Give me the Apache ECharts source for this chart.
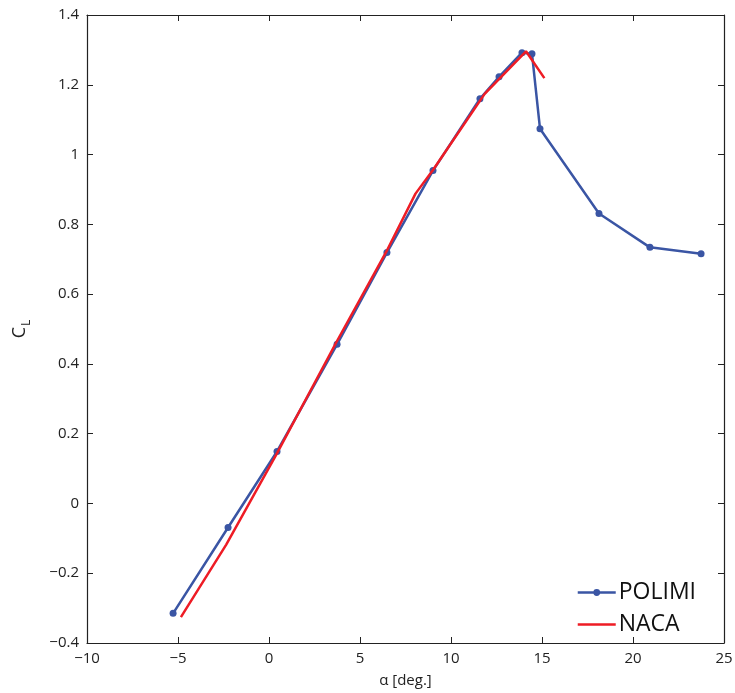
<!DOCTYPE html>
<html>
<head>
<meta charset="utf-8">
<script src="https://cdn.jsdelivr.net/npm/echarts@6/dist/echarts.min.js"></script>
<style>
html,body{margin:0;padding:0;background:#fff;}
#chart{width:735px;height:693px;}
</style>
</head>
<body>
<div id="chart"></div>
<script>
// Data
var polimiAlpha = [-5.27, -2.25, 0.44, 3.74, 6.48, 9.01, 11.59, 12.64, 13.90, 14.45, 14.89, 18.13, 20.93, 23.74];
var polimiCL    = [-0.315, -0.069, 0.149, 0.456, 0.719, 0.954, 1.160, 1.223, 1.292, 1.289, 1.074, 0.831, 0.734, 0.716];
var nacaAlpha = [-4.84, -2.35, 0.40, 3.70, 6.50, 8.05, 9.00, 11.85, 14.12, 15.13];
var nacaCL    = [-0.326, -0.118, 0.140, 0.462, 0.727, 0.888, 0.955, 1.174, 1.296, 1.219];
var xTicks = [-10, -5, 0, 5, 10, 15, 20, 25];
var yTicks = [-0.4, -0.2, 0, 0.2, 0.4, 0.6, 0.8, 1, 1.2, 1.4];

function pairs(xs, ys) { return xs.map(function (x, i) { return [x, ys[i]]; }); }
function fmt(v) {
  var s = String(Math.round(v * 10) / 10);
  return s.replace('-', '\u2212');
}

var FONT = '"Open Sans", "Liberation Sans", sans-serif';
var BLUE = '#3a55a4';
var RED = '#ee1c25';
// legend icons (38x14 box): line with dot, plain line
var CORNERS = ' M0 0 L0.01 0 L0 0.01 Z M38 14 L37.99 14 L38 13.99 Z';
var ICON_DOT = 'path://M0 5.8 L38 5.8 L38 8.2 L0 8.2 Z M15.6 7 A3.4 3.4 0 1 1 22.4 7 A3.4 3.4 0 1 1 15.6 7 Z' + CORNERS;
var ICON_LINE = 'path://M0 5.8 L38 5.8 L38 8.2 L0 8.2 Z' + CORNERS;

var chart = echarts.init(document.getElementById('chart'));
var axisCommon = {
  type: 'value',
  axisLine: { show: true, onZero: false, lineStyle: { color: '#222', width: 1.2 } },
  axisTick: { show: true, inside: true, length: 6, lineStyle: { color: '#222', width: 1 } },
  splitLine: { show: false }
};
chart.setOption({
  animation: false,
  backgroundColor: '#fff',
  grid: { left: 87, right: 11, top: 15, bottom: 50, outerBoundsMode: 'none', containLabel: false },
  legend: {
    orient: 'vertical',
    right: 34,
    top: 576,
    itemWidth: 38,
    itemHeight: 14,
    itemGap: 9,
    symbolKeepAspect: false,
    textStyle: { fontFamily: FONT, fontSize: 23, color: '#111', padding: [0, 0, 0, -2] },
    data: [{ name: 'POLIMI', icon: ICON_DOT }, { name: 'NACA', icon: ICON_LINE }]
  },
  xAxis: [
    Object.assign({}, axisCommon, {
      min: -10, max: 25, interval: 5, position: 'bottom',
      name: '\u03b1 [deg.]', nameLocation: 'middle', nameGap: 30,
      nameTextStyle: { fontFamily: FONT, fontSize: 15, color: '#222' },
      axisLabel: { fontFamily: FONT, fontSize: 15, color: '#222', margin: 8, formatter: fmt }
    }),
    Object.assign({}, axisCommon, {
      min: -10, max: 25, interval: 5, position: 'top',
      axisLabel: { show: false }
    })
  ],
  yAxis: [
    Object.assign({}, axisCommon, {
      min: -0.4, max: 1.4, interval: 0.2, position: 'left',
      name: '{c|C}{l|L}', nameLocation: 'middle', nameGap: 54, nameRotate: 90,
      nameTextStyle: {
        rich: {
          c: { fontFamily: FONT, fontSize: 18, color: '#222', lineHeight: 22, verticalAlign: 'top' },
          l: { fontFamily: FONT, fontSize: 12, color: '#222', lineHeight: 22, verticalAlign: 'bottom', padding: [8, 0, 0, 1] }
        }
      },
      axisLabel: { fontFamily: FONT, fontSize: 15, color: '#222', margin: 8, formatter: fmt }
    }),
    Object.assign({}, axisCommon, {
      min: -0.4, max: 1.4, interval: 0.2, position: 'right',
      axisLabel: { show: false }
    })
  ],
  series: [
    {
      name: 'POLIMI', type: 'line', xAxisIndex: 0, yAxisIndex: 0,
      data: pairs(polimiAlpha, polimiCL),
      symbol: 'circle', symbolSize: 7, showSymbol: true,
      lineStyle: { color: BLUE, width: 2.5 },
      itemStyle: { color: BLUE },
      z: 2
    },
    {
      name: 'NACA', type: 'line', xAxisIndex: 0, yAxisIndex: 0,
      data: pairs(nacaAlpha, nacaCL),
      symbol: 'none',
      lineStyle: { color: RED, width: 2.5 },
      itemStyle: { color: RED },
      z: 3
    }
  ]
});
</script>
</body>
</html>
